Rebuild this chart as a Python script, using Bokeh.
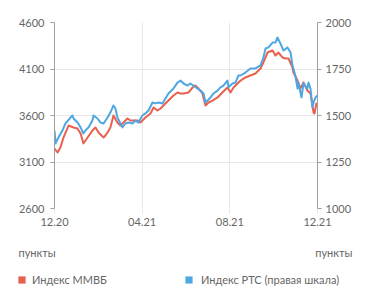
from bokeh.plotting import figure
from bokeh.layouts import column
from bokeh.models import (Range1d, LinearAxis, FixedTicker, Label, Legend, LegendItem)
from bokeh.embed import file_html
from bokeh.resources import INLINE

# months since 01.12.2020
tick_months = [0, 4, 8, 12]
tick_labels = ["12.20", "04.21", "08.21", "12.21"]
left_ticks = [2600, 3100, 3600, 4100, 4600]
right_ticks = [1000, 1250, 1500, 1750, 2000]

moex_x = [0, 0.14, 0.27, 0.41, 0.64, 0.87, 1.05, 1.19, 1.32, 1.51, 1.73, 1.87, 2.01, 2.24,
          2.42, 2.55, 2.69, 2.87, 3.01, 3.33, 3.47, 3.79, 3.92, 4.15, 4.38, 4.52, 4.70, 4.84,
          4.97, 5.20, 5.43, 5.61, 5.75, 5.89, 6.11, 6.30, 6.43, 6.57, 6.75, 6.89, 7.03, 7.21,
          7.44, 7.66, 7.89, 8.03, 8.17, 8.35, 8.49, 8.71, 8.94, 9.17, 9.40, 9.53, 9.72, 9.95,
          10.08, 10.22, 10.40, 10.54, 10.68, 10.86, 10.90, 11.09, 11.22, 11.36, 11.54, 11.68,
          11.82, 11.86, 11.95, 12.0]
moex = [3245, 3202, 3256, 3363, 3492, 3471, 3460, 3406, 3299, 3363, 3439, 3471, 3417, 3363,
        3417, 3471, 3600, 3525, 3492, 3568, 3546, 3546, 3525, 3578, 3621, 3686, 3654, 3675,
        3708, 3761, 3815, 3847, 3837, 3837, 3847, 3901, 3923, 3890, 3837, 3708, 3740, 3761,
        3794, 3847, 3901, 3847, 3901, 3944, 3976, 4009, 4030, 4052, 4105, 4170, 4277, 4299,
        4245, 4277, 4224, 4213, 4213, 4116, 4062, 3976, 3890, 3955, 3869, 3837,
        3632, 3621, 3729, 3729]

rts_x = [0, 0.05, 0.18, 0.36, 0.50, 0.73, 0.82, 0.87, 1.05, 1.19, 1.32, 1.41, 1.55, 1.73,
         1.78, 1.96, 2.10, 2.24, 2.42, 2.55, 2.69, 2.78, 2.87, 3.01, 3.10, 3.24, 3.38, 3.56,
         3.70, 3.83, 4.01, 4.15, 4.29, 4.47, 4.61, 4.74, 4.93, 5.06, 5.20, 5.43, 5.61, 5.75,
         5.89, 6.07, 6.20, 6.34, 6.52, 6.66, 6.80, 6.89, 6.98, 7.12, 7.25, 7.44, 7.57, 7.71,
         7.89, 7.94, 8.12, 8.26, 8.39, 8.49, 8.71, 8.94, 9.17, 9.40, 9.53, 9.63, 9.76, 9.95,
         10.08, 10.17, 10.31, 10.45, 10.63, 10.77, 10.86, 10.90, 10.99, 11.09, 11.13, 11.27,
         11.36, 11.54, 11.59, 11.68, 11.77, 11.82, 11.91, 12.0]
rts = [1419, 1350, 1382, 1419, 1457, 1489, 1500, 1484, 1462, 1436, 1403, 1419, 1436, 1473,
       1500, 1484, 1462, 1457, 1489, 1516, 1554, 1538, 1489, 1457, 1436, 1457, 1462, 1457,
       1473, 1462, 1500, 1511, 1527, 1570, 1565, 1570, 1565, 1591, 1618, 1645, 1677, 1688,
       1672, 1661, 1672, 1661, 1645, 1634, 1618, 1570, 1581, 1597, 1618, 1634, 1651, 1661,
       1688, 1651, 1672, 1677, 1715, 1715, 1731, 1753, 1753, 1769, 1812, 1860, 1866, 1892,
       1892, 1919, 1887, 1849, 1866, 1839, 1769, 1753, 1715, 1645, 1677, 1597,
       1672, 1645, 1677, 1645, 1543, 1570, 1597, 1608]

series_names = ["Индекс ММВБ", "Индекс РТС (правая шкала)"]
unit_text = "пункты"

RED = "#e9604f"
BLUE = "#4ea7e2"
GRID = "#e8e8e8"
AXIS = "#a0a0a0"
TXT = "#666666"
FONT = "Lato"
FS = "11px"

p = figure(width=371, height=238, output_backend="svg", toolbar_location=None,
           x_range=Range1d(0, 12), y_range=Range1d(2600, 4600),
           min_border_left=54, min_border_right=54, min_border_top=22, min_border_bottom=30)
p.outline_line_color = None
p.frame_align = False

p.extra_y_ranges = {"rts": Range1d(1000, 2000)}

p.line(moex_x, moex, line_color=RED, line_width=2, line_join="round")
p.line(rts_x, rts, line_color=BLUE, line_width=2, line_join="round", y_range_name="rts")

xa = p.xaxis[0]
xa.ticker = FixedTicker(ticks=tick_months)
xa.major_label_overrides = {m: l for m, l in zip(tick_months, tick_labels)}
xa.axis_line_color = None
xa.major_tick_line_color = GRID
xa.major_tick_out = 5
xa.major_tick_in = 0
xa.minor_tick_line_color = None
xa.major_label_standoff = 4

ya = p.yaxis[0]
ya.ticker = FixedTicker(ticks=left_ticks)
ya.axis_line_color = AXIS
ya.major_tick_line_color = AXIS
ya.major_tick_out = 4
ya.major_tick_in = 0
ya.minor_tick_line_color = None
ya.major_label_standoff = 6

ra = LinearAxis(y_range_name="rts", ticker=FixedTicker(ticks=right_ticks))
ra.axis_line_color = AXIS
ra.major_tick_line_color = AXIS
ra.major_tick_out = 4
ra.major_tick_in = 0
ra.minor_tick_line_color = None
ra.major_label_standoff = 4
p.add_layout(ra, "right")

for ax in (xa, ya, ra):
    ax.major_label_text_font = FONT
    ax.major_label_text_font_size = FS
    ax.major_label_text_color = TXT

p.xgrid.ticker = FixedTicker(ticks=tick_months)
p.ygrid.ticker = FixedTicker(ticks=left_ticks)
p.xgrid.grid_line_color = GRID
p.ygrid.grid_line_color = GRID

# footer: units and legend (frame covers the whole footer canvas, 1 unit = 1 px)
f = figure(width=371, height=64, output_backend="svg", toolbar_location=None,
           x_range=Range1d(0, 371), y_range=Range1d(0, 64),
           min_border=0, min_border_left=0, min_border_right=0,
           min_border_top=0, min_border_bottom=0,
           x_axis_type=None, y_axis_type=None)
f.outline_line_color = None
f.frame_align = False
f.grid.visible = False

for x, align in ((18, "left"), (352, "right")):
    f.add_layout(Label(x=x, y=50, text=unit_text,
                       text_font=FONT, text_font_size=FS, text_color=TXT,
                       text_align=align, text_baseline="middle"))

nan = float("nan")
r1 = f.quad(left=[nan], right=[nan], top=[nan], bottom=[nan], fill_color=RED, line_color=None)
r2 = f.quad(left=[nan], right=[nan], top=[nan], bottom=[nan], fill_color=BLUE, line_color=None)
for r, name, x, st in ((r1, series_names[0], 17, 6), (r2, series_names[1], 184, 8)):
    lg = Legend(items=[LegendItem(label=name, renderers=[r], index=0)], location=(x, 16),
                glyph_width=9, glyph_height=9, label_standoff=st, padding=0, margin=0,
                border_line_color=None, background_fill_alpha=0,
                label_text_font=FONT, label_text_font_size=FS, label_text_color=TXT,
                label_height=14)
    f.add_layout(lg, "center")

layout = column(p, f, spacing=0)
open("out.html", "w").write(file_html(layout, INLINE))
